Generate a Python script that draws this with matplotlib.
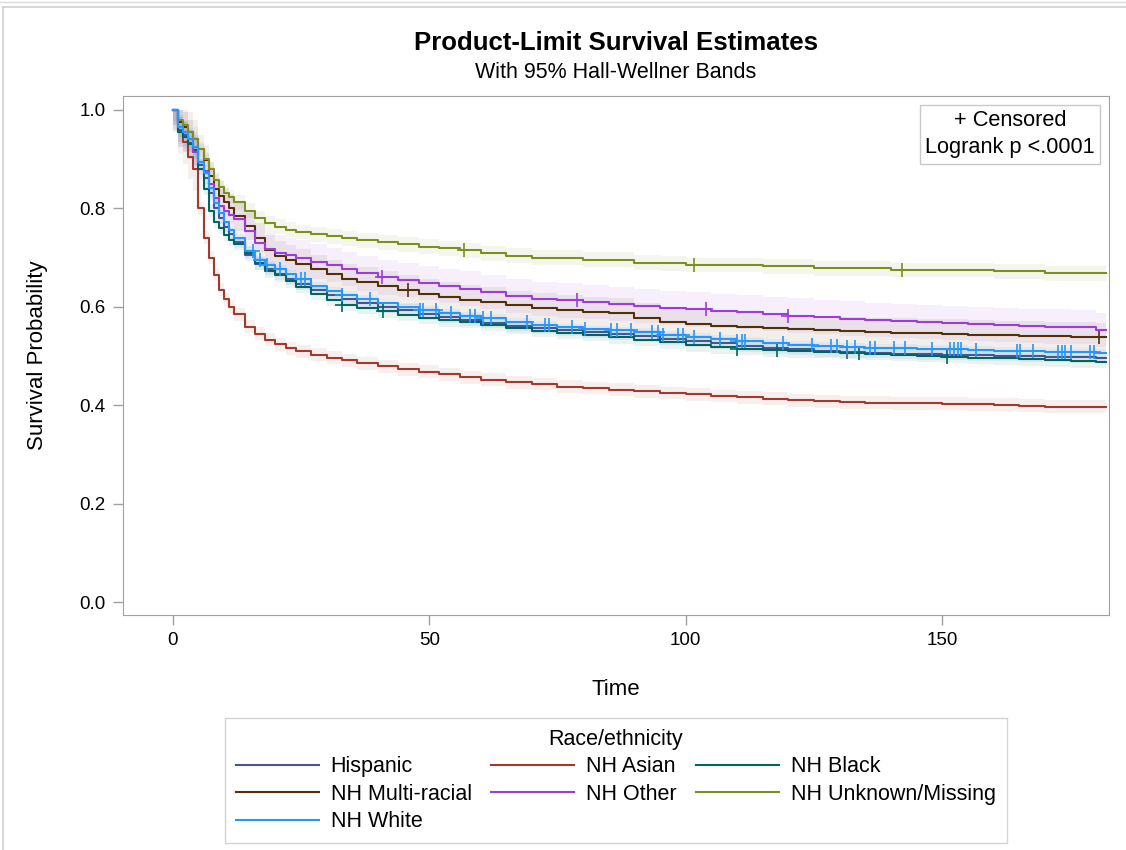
"""Kaplan-Meier style chart: product-limit survival estimates by race/ethnicity"""
import matplotlib
matplotlib.use("Agg")
import matplotlib.pyplot as plt
from matplotlib.lines import Line2D
import numpy as np

plt.rcParams["font.family"] = ["Liberation Sans", "DejaVu Sans"]

times = [0, 1, 2, 3, 4, 5, 6, 7, 8, 9, 10, 11, 12, 14, 16, 18, 20, 22, 24, 27,
         30, 33, 36, 40, 44, 48, 52, 56, 60, 65, 70, 75, 80, 85, 90, 95, 100,
         105, 110, 115, 120, 125, 130, 135, 140, 145, 150, 155, 160, 165, 170,
         175, 180, 182]

hispanic = [1.0, 0.96, 0.948, 0.933, 0.915, 0.888, 0.862, 0.832, 0.80, 0.78, 0.763,
            0.748, 0.732, 0.705, 0.687, 0.676, 0.666, 0.656, 0.647, 0.635, 0.624,
            0.615, 0.608, 0.60, 0.593, 0.586, 0.579, 0.573, 0.568, 0.561, 0.556,
            0.552, 0.548, 0.545, 0.54, 0.535, 0.53, 0.526, 0.521, 0.517, 0.514,
            0.511, 0.509, 0.507, 0.505, 0.504, 0.503, 0.502, 0.501, 0.50, 0.499,
            0.498, 0.497, 0.497]
asian = [1.0, 0.955, 0.935, 0.905, 0.88, 0.80, 0.74, 0.70, 0.665, 0.635, 0.615,
         0.60, 0.585, 0.56, 0.545, 0.533, 0.524, 0.516, 0.51, 0.503, 0.497, 0.491,
         0.485, 0.479, 0.473, 0.468, 0.463, 0.457, 0.452, 0.447, 0.443, 0.438,
         0.435, 0.432, 0.428, 0.425, 0.422, 0.419, 0.416, 0.413, 0.41, 0.408,
         0.406, 0.405, 0.404, 0.404, 0.403, 0.402, 0.401, 0.399, 0.397, 0.397,
         0.397, 0.397]
black = [1.0, 0.955, 0.945, 0.93, 0.918, 0.88, 0.84, 0.795, 0.773, 0.76, 0.746,
         0.736, 0.728, 0.71, 0.688, 0.672, 0.664, 0.652, 0.641, 0.627, 0.614,
         0.604, 0.598, 0.591, 0.584, 0.578, 0.573, 0.569, 0.563, 0.557, 0.551,
         0.547, 0.543, 0.538, 0.533, 0.528, 0.522, 0.518, 0.515, 0.512, 0.51,
         0.508, 0.506, 0.505, 0.503, 0.501, 0.499, 0.497, 0.495, 0.493, 0.491,
         0.489, 0.488, 0.488]
multi = [1.0, 0.975, 0.965, 0.955, 0.94, 0.92, 0.898, 0.865, 0.84, 0.825, 0.812,
         0.80, 0.785, 0.765, 0.74, 0.715, 0.704, 0.695, 0.687, 0.676, 0.666,
         0.657, 0.65, 0.643, 0.634, 0.626, 0.62, 0.614, 0.61, 0.603, 0.598,
         0.593, 0.59, 0.587, 0.578, 0.57, 0.565, 0.562, 0.559, 0.556, 0.554,
         0.552, 0.55, 0.548, 0.547, 0.546, 0.545, 0.543, 0.542, 0.541, 0.54,
         0.539, 0.538, 0.538]
other = [1.0, 0.965, 0.955, 0.94, 0.915, 0.895, 0.875, 0.85, 0.822, 0.805, 0.795,
         0.787, 0.778, 0.755, 0.73, 0.718, 0.71, 0.705, 0.70, 0.692, 0.685,
         0.677, 0.668, 0.66, 0.654, 0.648, 0.642, 0.637, 0.63, 0.622, 0.616,
         0.613, 0.61, 0.606, 0.602, 0.598, 0.595, 0.592, 0.589, 0.585, 0.582,
         0.579, 0.576, 0.573, 0.571, 0.569, 0.567, 0.565, 0.563, 0.561, 0.56,
         0.559, 0.553, 0.553]
unknown = [1.0, 0.98, 0.97, 0.955, 0.94, 0.92, 0.90, 0.88, 0.858, 0.843, 0.832,
           0.823, 0.812, 0.795, 0.78, 0.77, 0.763, 0.757, 0.752, 0.747, 0.743,
           0.739, 0.735, 0.731, 0.727, 0.722, 0.719, 0.715, 0.709, 0.704, 0.70,
           0.70, 0.696, 0.696, 0.69, 0.688, 0.685, 0.685, 0.685, 0.682, 0.682,
           0.678, 0.678, 0.678, 0.675, 0.675, 0.675, 0.675, 0.672, 0.672, 0.668,
           0.668, 0.668, 0.668]
white = [1.0, 0.965, 0.955, 0.94, 0.925, 0.895, 0.872, 0.842, 0.81, 0.79, 0.773,
         0.757, 0.74, 0.713, 0.695, 0.685, 0.676, 0.666, 0.656, 0.642, 0.632,
         0.624, 0.616, 0.607, 0.60, 0.594, 0.587, 0.581, 0.577, 0.569, 0.563,
         0.558, 0.554, 0.552, 0.548, 0.543, 0.538, 0.534, 0.53, 0.526, 0.522,
         0.52, 0.518, 0.517, 0.516, 0.515, 0.514, 0.512, 0.511, 0.51, 0.509,
         0.508, 0.507, 0.507]

# censoring times per group
cens_hispanic = [131.5]
cens_asian = []
cens_black = [33, 41, 110, 117.7, 133.7, 151]
cens_multi = [45.9, 180.5]
cens_other = [40.7, 78.8, 104, 120]
cens_unknown = [56.8, 101.6, 142.2]
cens_white = [15.7, 17, 18.3, 21, 25.1, 25.8, 33, 38.5, 48.2, 48.8, 51.4, 54.3,
              58, 59, 60.5, 62, 69, 72.5, 73.3, 77.9, 80.3, 85.5, 86.6, 89.4,
              93.5, 94.5, 95.5, 98.5, 99.5, 101.7, 106.6, 110, 111, 111.6, 118.9,
              124.6, 128.3, 129.5, 131.5, 132.9, 136, 136.9, 140.6, 142.7, 148,
              151.5, 152.3, 153, 153.6, 156.6, 164.5, 165.2, 167.7, 172.5, 173.3,
              173.9, 175, 178.8, 179.5]

# Hall-Wellner band half-widths (early, later)
groups = [
    ("Hispanic", hispanic, cens_hispanic, "#445694", (0.03, 0.012)),
    ("NH Asian", asian, cens_asian, "#A23A2E", (0.045, 0.013)),
    ("NH Black", black, cens_black, "#01665E", (0.03, 0.013)),
    ("NH Multi-racial", multi, cens_multi, "#543005", (0.04, 0.03)),
    ("NH Other", other, cens_other, "#9D3CDB", (0.04, 0.035)),
    ("NH Unknown/Missing", unknown, cens_unknown, "#7F8E1F", (0.025, 0.015)),
    ("NH White", white, cens_white, "#2597FA", (0.02, 0.008)),
]

fig = plt.figure(figsize=(11.26, 8.5), dpi=100)
ax = fig.add_axes([0.1092, 0.2765, 0.8757, 0.611])

t = np.array(times, dtype=float)
handles = {}
for name, vals, cens, color, (hw_early, hw_late) in groups:
    v = np.array(vals)
    hw = np.where(t < 5, hw_early, hw_late)
    ax.fill_between(t, np.clip(v - hw, 0, 1), np.clip(v + hw, 0, 1),
                    step="post", color=color, alpha=0.08, lw=0)
for name, vals, cens, color, _ in groups:
    v = np.array(vals)
    ln, = ax.step(t, v, where="post", color=color, lw=1.5)
    handles[name] = ln
    if cens:
        idx = np.searchsorted(t, np.array(cens), side="right") - 1
        ax.plot(cens, v[idx], ls="none", marker="+", ms=10, mew=1.2, color=color)

ax.set_xlim(-9.7, 182.5)
ax.set_ylim(-0.026, 1.029)
ax.set_xticks([0, 50, 100, 150])
ax.set_yticks([0.0, 0.2, 0.4, 0.6, 0.8, 1.0])
ax.set_yticklabels(["0.0", "0.2", "0.4", "0.6", "0.8", "1.0"])
for sp in ax.spines.values():
    sp.set_color("#A0A0A0")
ax.tick_params(colors="#A0A0A0", labelcolor="black", labelsize=13.5,
               length=7.5, width=1, pad=5)
ax.set_xlabel("Time", fontsize=16)
ax.set_ylabel("Survival Probability", fontsize=16)
ax.xaxis.set_label_coords(0.5, -0.1232)
ax.yaxis.set_label_coords(-0.076, 0.5)

fig.text(0.547, 0.949, "Product-Limit Survival Estimates", ha="center",
         va="center", fontsize=18.5, fontweight="bold")
fig.text(0.547, 0.915, "With 95% Hall-Wellner Bands", ha="center",
         va="center", fontsize=15.5)

ax.text(0.9858, 0.972, "+ Censored\nLogrank p <.0001", transform=ax.transAxes,
        ha="right", va="top", fontsize=15.7, multialignment="center", linespacing=1.38,
        bbox=dict(boxstyle="square,pad=0.25", fc="white", ec="#C8C8C8", lw=1))

order = ["Hispanic", "NH Multi-racial", "NH White", "NH Asian", "NH Other",
         "NH Black", "NH Unknown/Missing"]
leg = fig.legend([handles[n] for n in order], order, loc="upper center",
                 bbox_to_anchor=(0.547, 0.1553), borderaxespad=0, ncol=3,
                 fontsize=15.5, title="Race/ethnicity", title_fontsize=15.5,
                 frameon=True, fancybox=False, edgecolor="#C8C8C8",
                 handlelength=3.85, handletextpad=0.56, columnspacing=0.9,
                 labelspacing=0.3, borderpad=0.5)
leg.get_frame().set_linewidth(1)

# thin screenshot frame lines
fig.add_artist(Line2D([0, 1], [0.998, 0.998], color="#DADADA", lw=1))
fig.add_artist(Line2D([0.003, 1], [0.9915, 0.9915], color="#CFCFCF", lw=1.2))
fig.add_artist(Line2D([0.003, 0.003], [0, 0.9915], color="#CFCFCF", lw=1.2))

fig.savefig("out.png", dpi=100)
